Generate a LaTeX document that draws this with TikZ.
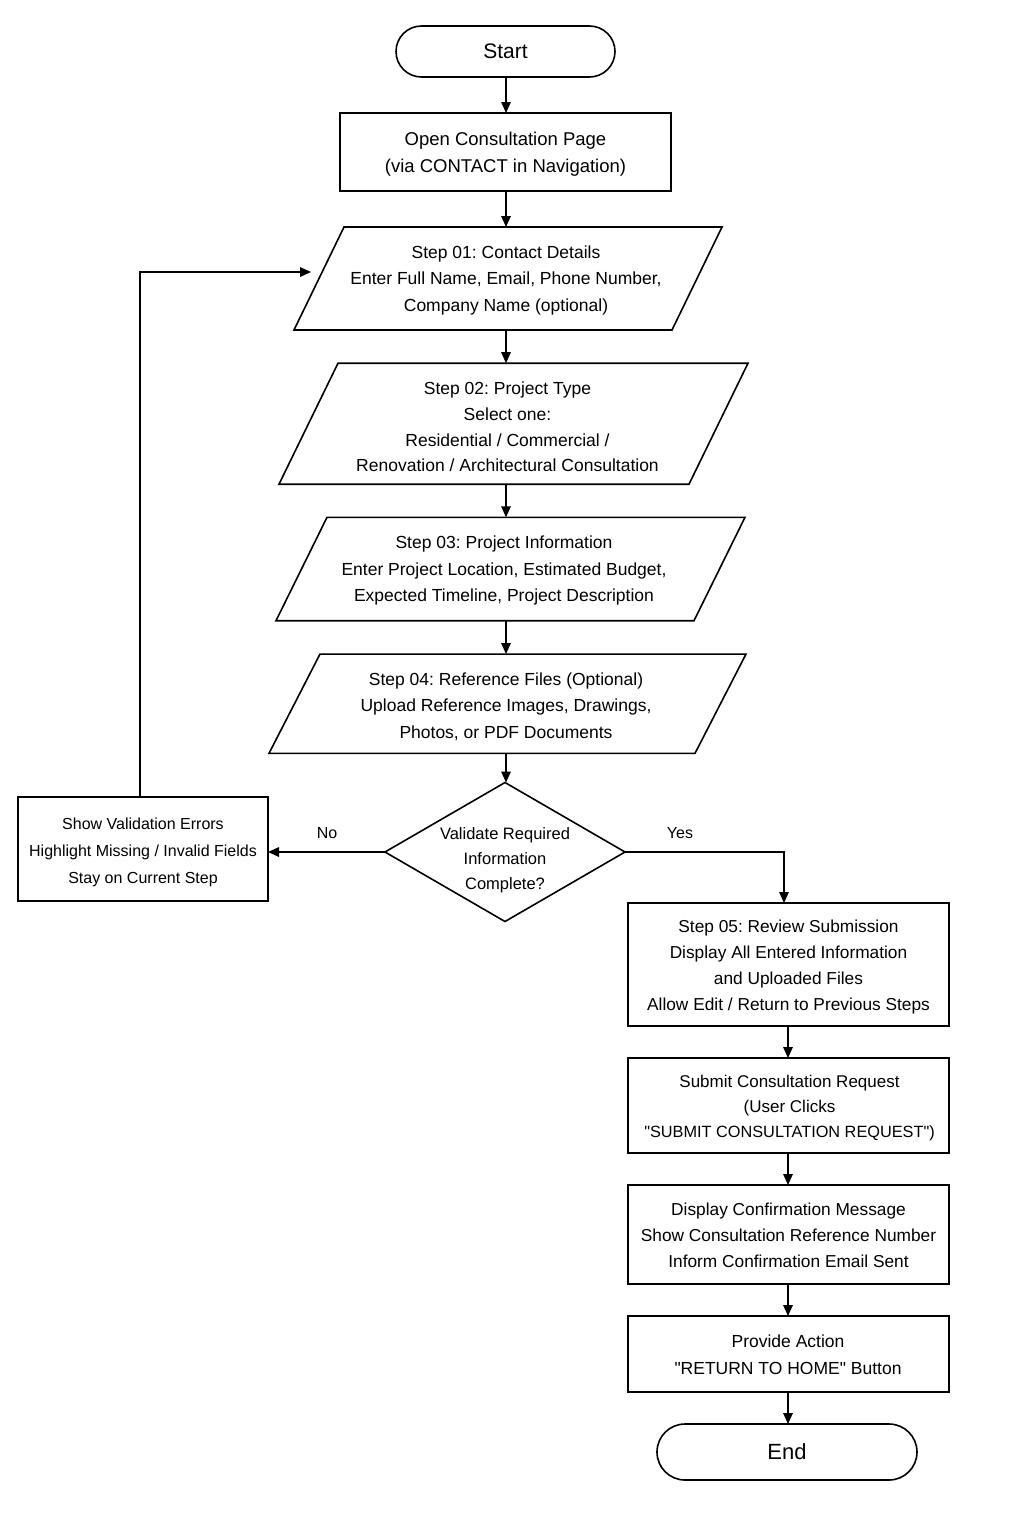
\documentclass[tikz,border=0pt]{standalone}
\usepackage{fontspec}
\setmainfont{Liberation Sans}[Ligatures=TeXOff]
\usetikzlibrary{shapes.geometric,arrows.meta}
\frenchspacing
\begin{document}
\begin{tikzpicture}[x=1pt,y=-1pt,
  every node/.style={inner sep=0pt, outer sep=0pt},
  base/.style={draw=black, line width=1.6pt},
  term/.style={base, rectangle},
  box/.style={base, rectangle},
  frame/.style={rectangle, draw=none},
  txt/.style={align=center, font=\fontsize{17.5}{26.5}\selectfont},
  arr/.style={line width=1.6pt, -{Triangle[length=11pt,width=9.5pt]}},
  lbl/.style={font=\fontsize{16}{19}\selectfont}
]
\useasboundingbox[fill=white] (0,0) rectangle (1023,1537);

% terminals and boxes
\node[term, rounded corners=25.5pt, minimum width=219pt, minimum height=51pt, font=\fontsize{21}{25}\selectfont] (start) at (505.5,51.5) {Start};
\node[box, minimum width=331pt, minimum height=78pt] (open) at (505.5,152) {};
\node[txt, font=\fontsize{18.5}{27}\selectfont] (open-t) at (505.5,154) {Open Consultation Page\\(via CONTACT in Navigation)};

% parallelograms
\node[frame, minimum width=428pt, minimum height=103pt] (s1) at (508,278.5) {};
\draw[base] ([xshift=50pt]s1.north west) -- (s1.north east) -- ([xshift=-50pt]s1.south east) -- (s1.south west) -- cycle;
\node[txt] (t1) at (506,280) {Step 01: Contact Details\\Enter Full Name, Email, Phone Number,\\Company Name (optional)};

\node[frame, minimum width=469pt, minimum height=121pt] (s2) at (513.5,423.7) {};
\draw[base] ([xshift=59pt]s2.north west) -- (s2.north east) -- ([xshift=-59pt]s2.south east) -- (s2.south west) -- cycle;
\node[txt, font=\fontsize{17.5}{25.7}\selectfont] (t2) at (507.5,427) {Step 02: Project Type\\Select one:\\Residential / Commercial /\\Renovation / Architectural Consultation};

\node[frame, minimum width=469pt, minimum height=103.4pt] (s3) at (510.5,569) {};
\draw[base] ([xshift=51pt]s3.north west) -- (s3.north east) -- ([xshift=-51pt]s3.south east) -- (s3.south west) -- cycle;
\node[txt] (t3) at (504,570.7) {Step 03: Project Information\\Enter Project Location, Estimated Budget,\\Expected Timeline, Project Description};

\node[frame, minimum width=477pt, minimum height=99.3pt] (s4) at (507.5,703.7) {};
\draw[base] ([xshift=51pt]s4.north west) -- (s4.north east) -- ([xshift=-51pt]s4.south east) -- (s4.south west) -- cycle;
\node[txt] (t4) at (506,706.3) {Step 04: Reference Files (Optional)\\Upload Reference Images, Drawings,\\Photos, or PDF Documents};

% decision
\node[base, diamond, inner sep=2pt, minimum width=240pt, minimum height=139pt] (dia) at (505,852) {};
\node[align=center, font=\fontsize{16.5}{25}\selectfont] (dt) at (505,860) {Validate Required\\Information\\Complete?};

% error box
\node[box, minimum width=250pt, minimum height=104pt] (err) at (143,849) {};
\node[txt, font=\fontsize{16}{27.3}\selectfont] (err-t) at (143,852.3) {Show Validation Errors\\Highlight Missing / Invalid Fields\\Stay on Current Step};

% right column
\node[box, minimum width=321pt, minimum height=123pt] (s5) at (788.5,964.5) {};
\node[txt, font=\fontsize{17.3}{26}\selectfont] (s5-t) at (788.5,967.5) {Step 05: Review Submission\\Display All Entered Information\\and Uploaded Files\\Allow Edit / Return to Previous Steps};
\node[box, minimum width=321pt, minimum height=95pt] (sub) at (788.5,1105.5) {};
\node[txt, font=\fontsize{17}{25}\selectfont] (sub-t) at (789.5,1108.5) {Submit Consultation Request\\(User Clicks\\{\fontsize{16.3}{25}\selectfont"SUBMIT CONSULTATION REQUEST")}};
\node[box, minimum width=321pt, minimum height=99pt] (conf) at (788.5,1234.5) {};
\node[txt, font=\fontsize{17.3}{26}\selectfont] (conf-t) at (788.5,1235.5) {Display Confirmation Message\\Show Consultation Reference Number\\Inform Confirmation Email Sent};
\node[box, minimum width=321pt, minimum height=76pt] (prov) at (788.5,1354) {};
\node[txt, font=\fontsize{17.5}{27}\selectfont] (prov-t) at (788,1355) {Provide Action\\"RETURN TO HOME" Button};
\node[term, rounded corners=28pt, minimum width=260pt, minimum height=56pt, font=\fontsize{22}{26}\selectfont] (end) at (787,1452) {End};

% labels
\node[lbl] (no) at (327,833) {No};
\node[lbl] (yes) at (680,833) {Yes};

% connectors
\coordinate (cx) at (506,0);
\coordinate (rx) at (788,0);
\draw[arr] (cx |- start.south) -- (cx |- open.north);
\draw[arr] (cx |- open.south) -- (cx |- s1.north);
\draw[arr] (cx |- s1.south) -- (cx |- s2.north);
\draw[arr] (cx |- s2.south) -- (cx |- s3.north);
\draw[arr] (cx |- s3.south) -- (cx |- s4.north);
\draw[arr] (cx |- s4.south) -- (cx |- dia.north);
\draw[arr] (dia.west) -- (dia.west -| err.east);
\coordinate (yc) at (784,852);
\draw[arr] (dia.east) -- (yc) -- (yc |- s5.north);
\coordinate (lt) at (140,272);
\coordinate (le) at (311,272);
\draw[arr] (err.north -| lt) -- (lt) -- (le);
\draw[arr] (rx |- s5.south) -- (rx |- sub.north);
\draw[arr] (rx |- sub.south) -- (rx |- conf.north);
\draw[arr] (rx |- conf.south) -- (rx |- prov.north);
\draw[arr] (rx |- prov.south) -- (rx |- end.north);
\end{tikzpicture}
\end{document}
